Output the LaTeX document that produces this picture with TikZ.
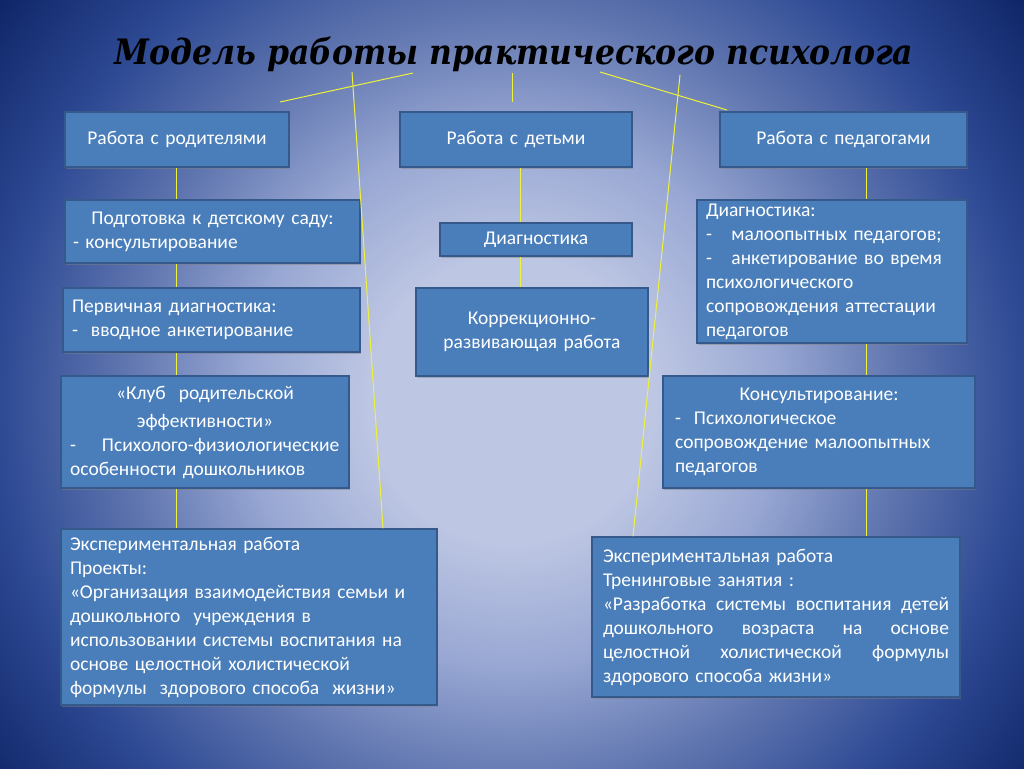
\documentclass[tikz,border=0pt]{standalone}
\usepackage{fontspec}
\setmainfont{Carlito}
\newfontfamily\titlefont{DejaVu Serif Condensed}
\usetikzlibrary{shadows}

\definecolor{bgcenter}{HTML}{BDC6E3}
\definecolor{bglight}{HTML}{98A7D3}
\definecolor{bgmid}{HTML}{5F75AF}
\definecolor{bgedge}{HTML}{2E4A94}
\definecolor{bgcorner}{HTML}{0E2466}
\definecolor{blkfill}{HTML}{4A7EBB}
\definecolor{blkborder}{HTML}{34598A}
\definecolor{linkyellow}{HTML}{EEF23A}

\pgfdeclareradialshading{slidebg}{\pgfpoint{0bp}{0bp}}{%
  color(0bp)=(bgcenter); color(7bp)=(bgcenter); color(13bp)=(bglight);
  color(19bp)=(bgmid); color(25bp)=(bgedge); color(32bp)=(bgcorner);
  color(50bp)=(bgcorner)}

\newcommand\ctr[1]{\makebox[\hsize]{#1}}
\newcommand\jst[1]{\makebox[\hsize][l]{#1}}

\tikzset{
  blk/.style={draw=blkborder, line width=1.5pt, fill=blkfill, text=white,
    inner sep=0pt, align=left, font=\fontsize{19.5}{24}\selectfont,
    drop shadow={shadow xshift=1pt, shadow yshift=-2pt, opacity=.45}},
  link/.style={draw=linkyellow, line width=1pt}
}

\begin{document}
\begin{tikzpicture}[x=1pt, y=-1pt]
  \useasboundingbox (0,0) rectangle (1024,768);
  \begin{scope}
    \clip (0,0) rectangle (1024,768);
    \shade[shading=slidebg] (0,-112) rectangle (1024,912);
  \end{scope}

  % title
  \node[font=\titlefont\bfseries\itshape\fontsize{35}{40}\selectfont] (title) at (514,54)
    {Модель работы практического психолога};

  % three directions
  \node[blk, minimum width=224pt, minimum height=55pt, text width=204pt] (par) at (177,139.5)
    {\ctr{Работа с родителями}};
  \node[blk, minimum width=232pt, minimum height=55pt, text width=212pt] (kid) at (516,139.5)
    {\ctr{Работа с детьми}};
  \node[blk, minimum width=247pt, minimum height=55pt, text width=227pt] (ped) at (843.5,139.5)
    {\ctr{Работа с педагогами}};

  % parents
  \node[blk, minimum width=295pt, minimum height=63pt, text width=279pt] (prep) at (212.5,231.5)
    {\ctr{Подготовка к детскому саду:}\\- консультирование};
  \node[blk, minimum width=297pt, minimum height=64pt, text width=279pt] (perv) at (211.5,320)
    {Первичная диагностика:\\-\ \ вводное анкетирование};
  \node[blk, minimum width=288pt, minimum height=112pt, text width=270pt] (club) at (205,432)
    {\ctr{«Клуб\ \ родительской}\\[4pt]\ctr{эффективности»}\\-\ \ \ \ Психолого-физиологические\\особенности дошкольников};
  \node[blk, minimum width=376pt, minimum height=176pt, text width=358pt] (lexp) at (249,617)
    {Экспериментальная работа\\Проекты:\\«Организация взаимодействия семьи и\\дошкольного\ \ учреждения в\\использовании системы воспитания на\\основе целостной холистической\\формулы\ \ здорового способа\ \ жизни»};

  % children
  \node[blk, minimum width=192pt, minimum height=33pt, text width=176pt] (mdiag) at (536,239.5)
    {\ctr{Диагностика}};
  \node[blk, minimum width=232pt, minimum height=88pt, text width=216pt] (corr) at (532,332)
    {\ctr{Коррекционно-}\\\ctr{развивающая работа}};

  % teachers
  \node[blk, minimum width=270pt, minimum height=143pt, text width=252pt] (rdiag) at (832,271.5)
    {Диагностика:\\-\ \ \ малоопытных педагогов;\\-\ \ \ анкетирование во время\\психологического\\сопровождения аттестации\\педагогов};
  \node[blk, minimum width=312pt, minimum height=112pt, text width=288pt] (cons) at (819,432)
    {\ctr{Консультирование:}\\-\ \ Психологическое\\сопровождение малоопытных\\педагогов};
  \node[blk, minimum width=368pt, minimum height=160pt, text width=346pt] (rexp) at (776,617)
    {Экспериментальная работа\\Тренинговые занятия :\\\jst{«Разработка\hfill системы\hfill воспитания\hfill детей}\\\jst{дошкольного\hfill возраста\hfill на\hfill основе}\\\jst{целостной\hfill холистической\hfill формулы}\\здорового способа жизни»};

  % connectors
  \coordinate (lx) at (176,0);
  \coordinate (mx) at (520,0);
  \coordinate (rx) at (866,0);
  \draw[link] (lx |- par.south) -- (lx |- prep.north);
  \draw[link] (lx |- prep.south) -- (lx |- perv.north);
  \draw[link] (lx |- perv.south) -- (lx |- club.north);
  \draw[link] (lx |- club.south) -- (lx |- lexp.north);
  \draw[link] (mx |- kid.south) -- (mx |- mdiag.north);
  \draw[link] (mx |- mdiag.south) -- (mx |- corr.north);
  \draw[link] (rx |- ped.south) -- (rx |- rdiag.north);
  \draw[link] (rx |- rdiag.south) -- (rx |- cons.north);
  \draw[link] (rx |- cons.south) -- (rx |- rexp.north);

  % from the title
  \coordinate (t1) at (413,73);
  \coordinate (t1e) at (280,102);
  \coordinate (t2) at (512,73);
  \coordinate (t2e) at (512,102);
  \coordinate (t3) at (600,72);
  \coordinate (t3e) at (727,110);
  \coordinate (tl) at (352,72);
  \coordinate (tlx) at (383,0);
  \coordinate (tr) at (680,75);
  \coordinate (trx) at (633,0);
  \draw[link] (t1) -- (t1e);
  \draw[link] (t2) -- (t2e);
  \draw[link] (t3) -- (t3e);
  \draw[link] (tl) -- (tlx |- lexp.north);
  \draw[link] (tr) -- (trx |- rexp.north);
\end{tikzpicture}
\end{document}
